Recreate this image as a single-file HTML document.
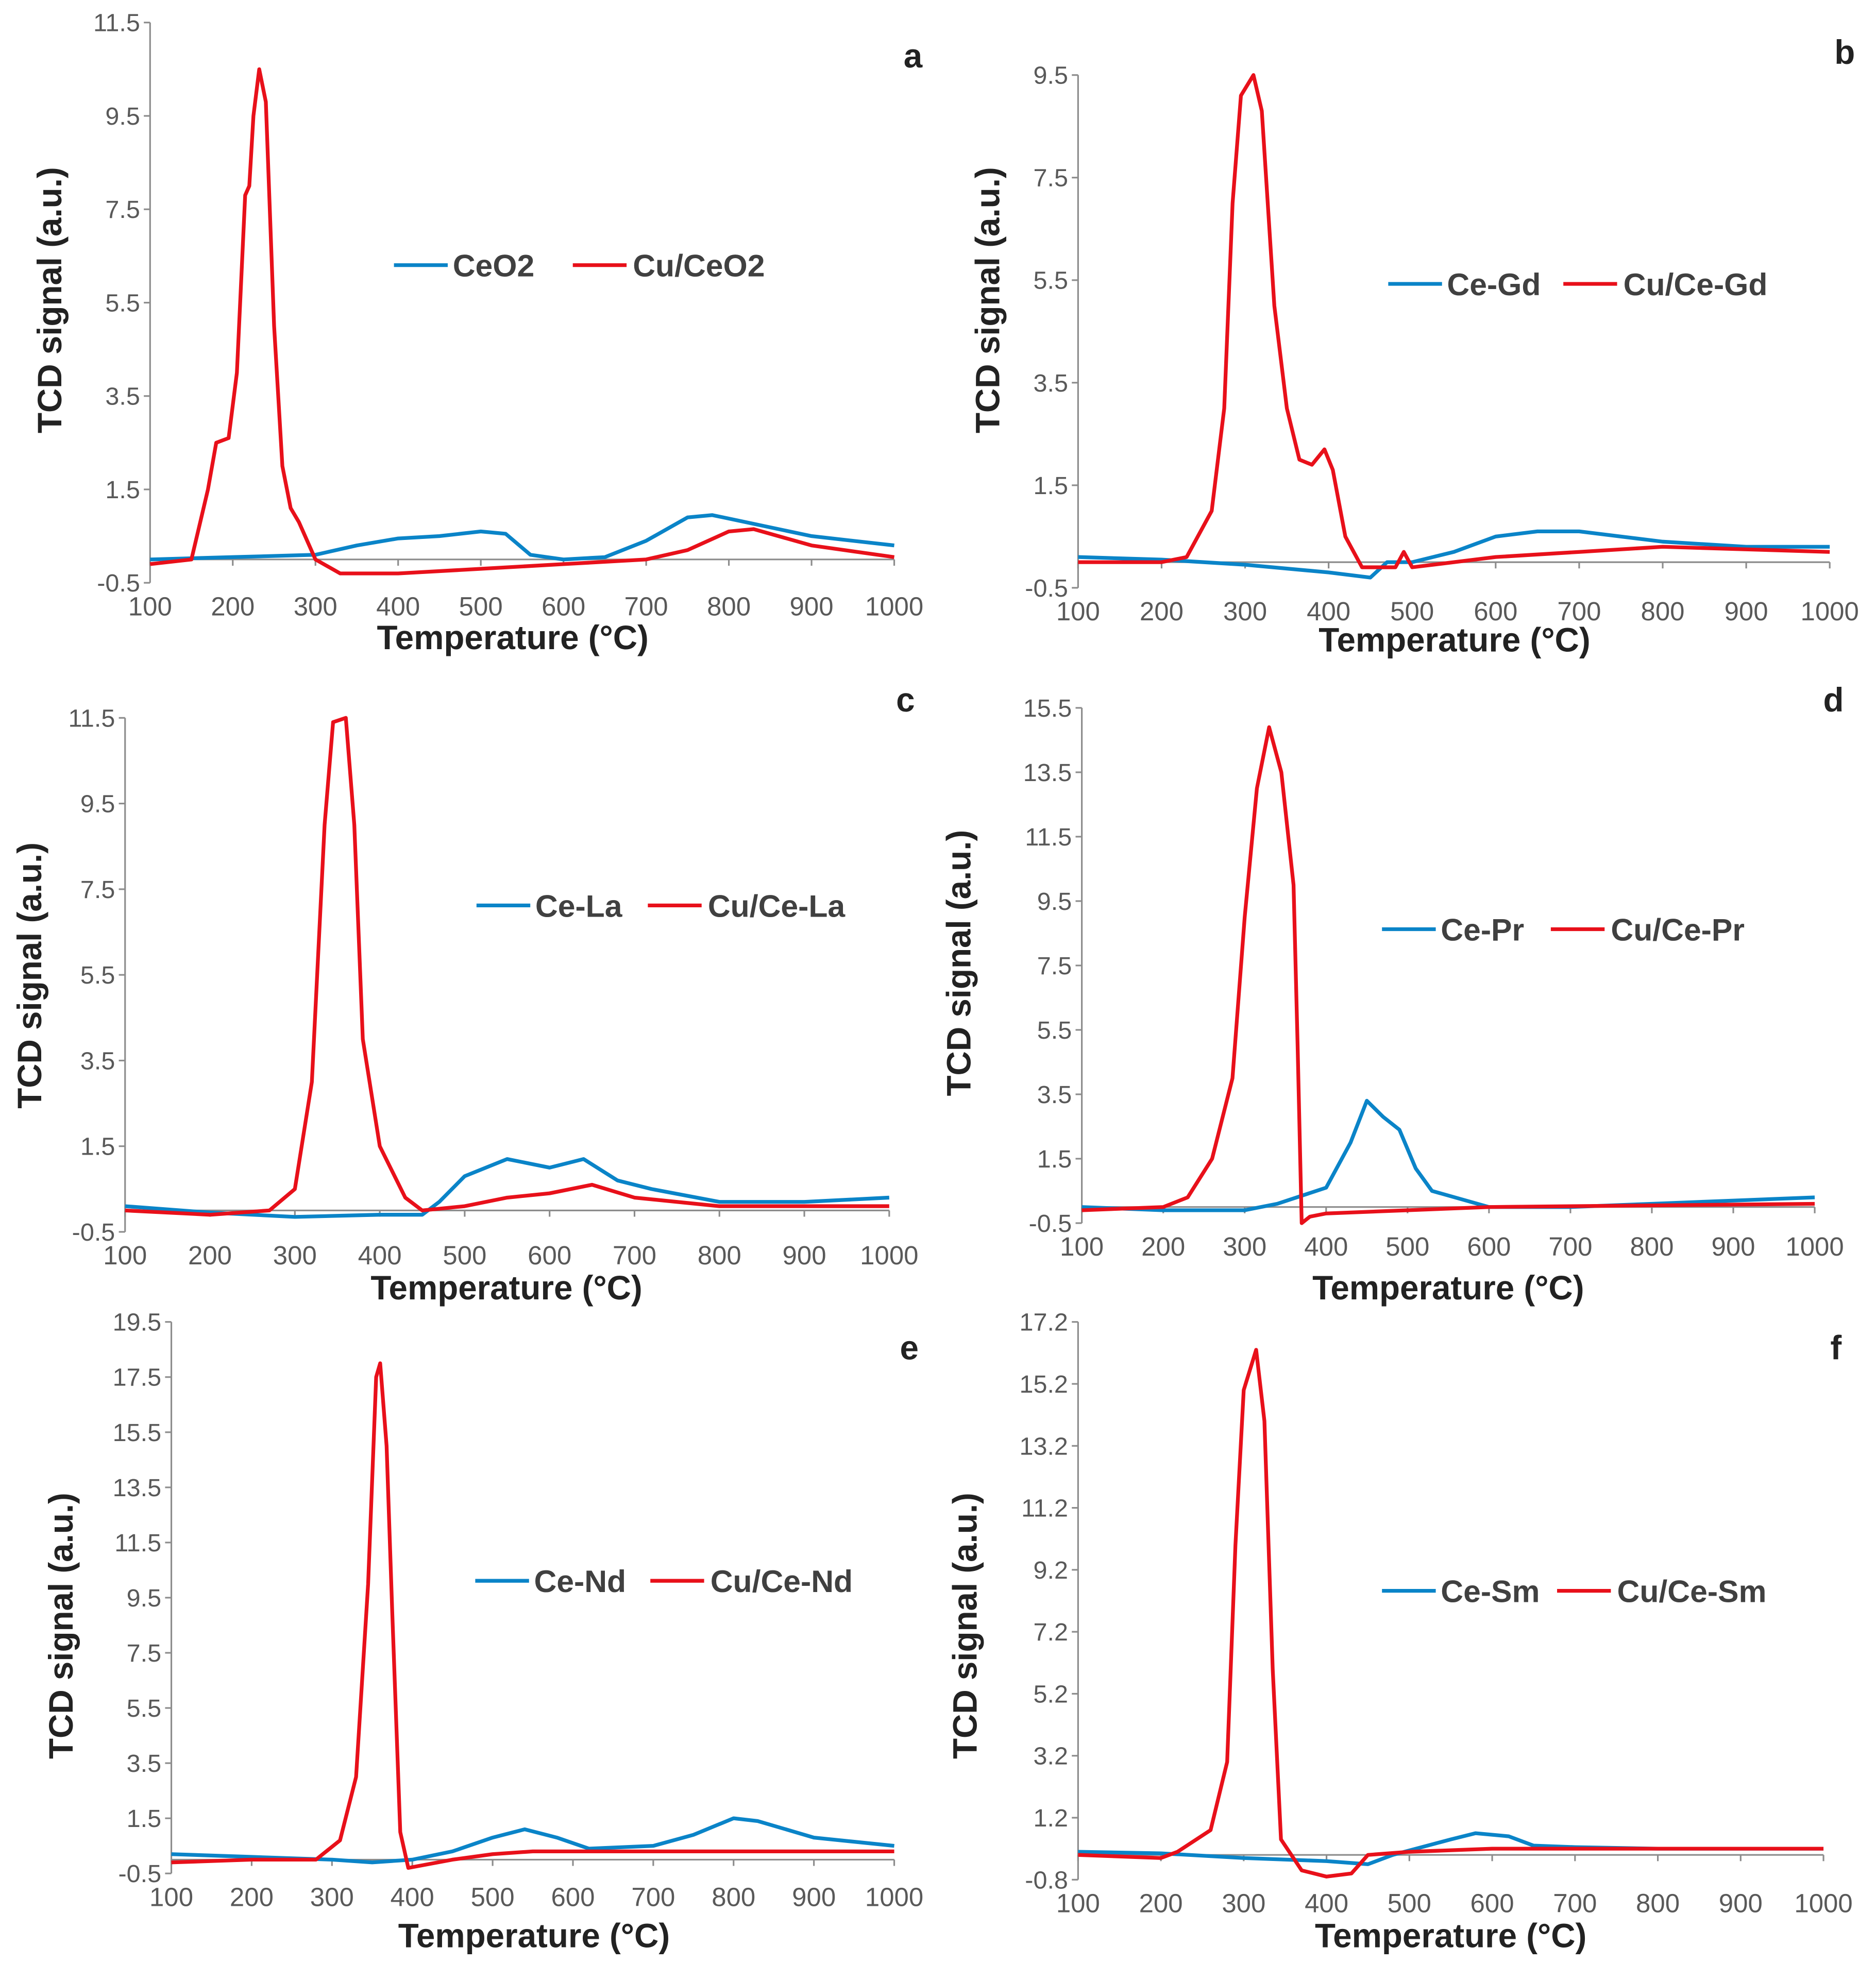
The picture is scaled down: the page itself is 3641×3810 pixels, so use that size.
<!DOCTYPE html>
<html><head><meta charset="utf-8"><style>
html,body{margin:0;padding:0;background:#fff}
svg{display:block}
text{font-family:"Liberation Sans",Arial,sans-serif}
</style></head><body>
<svg id="fig" width="3641" height="3810" viewBox="0 0 1500 1569.6" xmlns="http://www.w3.org/2000/svg"></svg>
<script>
const panelLetters=["a","b","c","d","e","f"];
const blueNames=["CeO2","Ce-Gd","Ce-La","Ce-Pr","Ce-Nd","Ce-Sm"];
const redNames=["Cu/CeO2","Cu/Ce-Gd","Cu/Ce-La","Cu/Ce-Pr","Cu/Ce-Nd","Cu/Ce-Sm"];
const xTicks=[100,200,300,400,500,600,700,800,900,1000];
const yTicksA=[-0.5,1.5,3.5,5.5,7.5,9.5,11.5];
const yTicksB=[-0.5,1.5,3.5,5.5,7.5,9.5];
const yTicksC=[-0.5,1.5,3.5,5.5,7.5,9.5,11.5];
const yTicksD=[-0.5,1.5,3.5,5.5,7.5,9.5,11.5,13.5,15.5];
const yTicksE=[-0.5,1.5,3.5,5.5,7.5,9.5,11.5,13.5,15.5,17.5,19.5];
const yTicksF=[-0.8,1.2,3.2,5.2,7.2,9.2,11.2,13.2,15.2,17.2];
const blueT_a=[100,200,300,350,400,450,500,530,560,600,650,700,750,780,820,900,1000];
const blueV_a=[0,0.05,0.1,0.3,0.45,0.5,0.6,0.55,0.1,0,0.05,0.4,0.9,0.95,0.8,0.5,0.3];
const redT_a=[100,150,170,180,195,205,215,220,225,232,240,250,260,270,280,300,330,400,500,600,700,750,800,830,900,1000];
const redV_a=[-0.1,0,1.5,2.5,2.6,4,7.8,8.0,9.5,10.5,9.8,5,2,1.1,0.8,0,-0.3,-0.3,-0.2,-0.1,0,0.2,0.6,0.65,0.3,0.05];
const blueT_b=[100,200,300,400,450,470,500,550,600,650,700,750,800,900,1000];
const blueV_b=[0.1,0.05,-0.05,-0.2,-0.3,0,0,0.2,0.5,0.6,0.6,0.5,0.4,0.3,0.3];
const redT_b=[100,200,230,260,275,285,295,310,320,335,350,365,380,395,405,420,440,480,490,500,600,700,800,1000];
const redV_b=[0,0,0.1,1,3,7,9.1,9.5,8.8,5,3,2,1.9,2.2,1.8,0.5,-0.1,-0.1,0.2,-0.1,0.1,0.2,0.3,0.2];
const blueT_c=[100,200,300,400,450,470,500,550,600,640,680,720,800,900,1000];
const blueV_c=[0.1,-0.05,-0.15,-0.1,-0.1,0.2,0.8,1.2,1,1.2,0.7,0.5,0.2,0.2,0.3];
const redT_c=[100,200,270,300,320,335,345,360,370,380,400,430,450,500,550,600,650,700,800,1000];
const redV_c=[0,-0.1,0,0.5,3,9,11.4,11.5,9,4,1.5,0.3,0,0.1,0.3,0.4,0.6,0.3,0.1,0.1];
const blueT_d=[100,200,300,340,400,430,450,470,490,510,530,600,700,800,900,1000];
const blueV_d=[0,-0.1,-0.1,0.1,0.6,2,3.3,2.8,2.4,1.2,0.5,0,0,0.1,0.2,0.3];
const redT_d=[100,200,230,260,285,300,315,330,345,360,365,370,380,400,500,600,1000];
const redV_d=[-0.1,0,0.3,1.5,4,9,13,14.9,13.5,10,5,-0.5,-0.3,-0.2,-0.1,0,0.1];
const blueT_e=[100,200,300,350,400,450,500,540,580,620,700,750,800,830,900,1000];
const blueV_e=[0.2,0.1,0,-0.1,0,0.3,0.8,1.1,0.8,0.4,0.5,0.9,1.5,1.4,0.8,0.5];
const redT_e=[100,200,280,310,330,345,355,360,368,375,385,395,450,500,550,700,1000];
const redV_e=[-0.1,0,0,0.7,3,10,17.5,18,15,9,1,-0.3,0,0.2,0.3,0.3,0.3];
const blueT_f=[100,200,300,400,450,480,550,580,620,650,700,800,900,1000];
const blueV_f=[0.1,0.05,-0.1,-0.2,-0.3,0,0.5,0.7,0.6,0.3,0.25,0.2,0.2,0.2];
const redT_f=[100,200,220,260,280,290,300,315,325,335,345,370,400,430,450,500,600,1000];
const redV_f=[0,-0.1,0.1,0.8,3,10,15,16.3,14,6,0.5,-0.5,-0.7,-0.6,0,0.1,0.2,0.2];

const frames=[
 {x0:120,x1:715,yTop:18,yBot:466,ticks:yTicksA,bt:blueT_a,bv:blueV_a,rt:redT_a,rv:redV_a,let:[730,45],leg:[315,212],legGap:143,yl:[40,240],xl:[410,510]},
 {x0:862,x1:1463,yTop:60,yBot:470,ticks:yTicksB,bt:blueT_b,bv:blueV_b,rt:redT_b,rv:redV_b,let:[1475,42],leg:[1110,227],legGap:140,yl:[790,240],xl:[1163,512]},
 {x0:100,x1:711,yTop:574,yBot:985,ticks:yTicksC,bt:blueT_c,bv:blueV_c,rt:redT_c,rv:redV_c,let:[724,560],leg:[381,724],legGap:137,yl:[24,780],xl:[405,1030]},
 {x0:865,x1:1451,yTop:566,yBot:978,ticks:yTicksD,bt:blueT_d,bv:blueV_d,rt:redT_d,rv:redV_d,let:[1466,560],leg:[1105,743],legGap:135,yl:[767,770],xl:[1158,1030]},
 {x0:137,x1:715,yTop:1057,yBot:1498,ticks:yTicksE,bt:blueT_e,bv:blueV_e,rt:redT_e,rv:redV_e,let:[727,1078],leg:[380,1264],legGap:140,yl:[49,1300],xl:[427,1548]},
 {x0:862,x1:1458,yTop:1057,yBot:1503,ticks:yTicksF,bt:blueT_f,bv:blueV_f,rt:redT_f,rv:redV_f,let:[1468,1078],leg:[1105,1272],legGap:140,yl:[772,1300],xl:[1160,1548]}
];
const NS="http://www.w3.org/2000/svg";
const svg=document.getElementById('fig');
function mk(tag,attrs,parent){const e=document.createElementNS(NS,tag);for(const k in attrs)e.setAttribute(k,attrs[k]);parent.appendChild(e);return e;}
frames.forEach((f,i)=>{
  const g=mk('g',{},svg);
  
  
  const ymin=f.ticks[0],ymax=f.ticks[f.ticks.length-1];
  const sx=t=>f.x0+(t-100)/900*(f.x1-f.x0);
  const sy=v=>f.yBot-(v-ymin)/(ymax-ymin)*(f.yBot-f.yTop);
  const ax=mk('line',{x1:f.x0,x2:f.x0,y1:f.yTop,y2:f.yBot,stroke:'#8c8c8c','stroke-width':1.3},g);
  
  
  const zl=mk('line',{x1:f.x0,x2:f.x1,y1:sy(0),y2:sy(0),stroke:'#8c8c8c','stroke-width':1.3},g);
  
  
  f.ticks.forEach(v=>{
    mk('line',{x1:f.x0-5,x2:f.x0,y1:sy(v),y2:sy(v),stroke:'#8c8c8c','stroke-width':1.3},g);
    const t=mk('text',{x:f.x0-8,y:sy(v)+7,'text-anchor':'end','font-size':20,fill:'#595959'},g);
    t.textContent=v.toFixed(1);
    
    
  });
  xTicks.forEach(v=>{
    mk('line',{x1:sx(v),x2:sx(v),y1:sy(0),y2:sy(0)+5,stroke:'#8c8c8c','stroke-width':1.3},g);
    const t=mk('text',{x:sx(v),y:f.yBot+26,'text-anchor':'middle','font-size':21,fill:'#595959'},g);
    t.textContent=v;
    
    
  });
  const bl=mk('polyline',{points:f.bt.map((t,k)=>sx(t)+','+sy(f.bv[k])).join(' '),fill:'none',stroke:'#0a84c8','stroke-width':3,'stroke-linejoin':'round'},g);
  
  
  const rl=mk('polyline',{points:f.rt.map((t,k)=>sx(t)+','+sy(f.rv[k])).join(' '),fill:'none',stroke:'#e8101a','stroke-width':3,'stroke-linejoin':'round'},g);
  
  
  const L=mk('text',{x:f.let[0],y:f.let[1]+9,'text-anchor':'middle','font-size':27,'font-weight':'bold',fill:'#222'},g);
  L.textContent=panelLetters[i];
  
  
  const lx=f.leg[0],ly=f.leg[1];
  mk('line',{x1:lx,x2:lx+43,y1:ly,y2:ly,stroke:'#0a84c8','stroke-width':3},g);
  const bt=mk('text',{x:lx+47,y:ly+9,'font-size':25,'font-weight':'bold',fill:'#404040'},g);
  bt.textContent=blueNames[i];
  
  
  mk('line',{x1:lx+f.legGap,x2:lx+f.legGap+43,y1:ly,y2:ly,stroke:'#e8101a','stroke-width':3},g);
  const rt=mk('text',{x:lx+f.legGap+48,y:ly+9,'font-size':25,'font-weight':'bold',fill:'#404040'},g);
  rt.textContent=redNames[i];
  
  
  const yl=mk('text',{x:0,y:0,'text-anchor':'middle','font-size':27,'font-weight':'bold',fill:'#222',transform:`translate(${f.yl[0]+9},${f.yl[1]}) rotate(-90)`},g);
  yl.textContent='TCD signal (a.u.)';
  
  
  const xl=mk('text',{x:f.xl[0],y:f.xl[1]+9,'text-anchor':'middle','font-size':27,'font-weight':'bold',fill:'#222'},g);
  xl.textContent='Temperature (\u00B0C)';
  
  
});
</script>
</body></html>
